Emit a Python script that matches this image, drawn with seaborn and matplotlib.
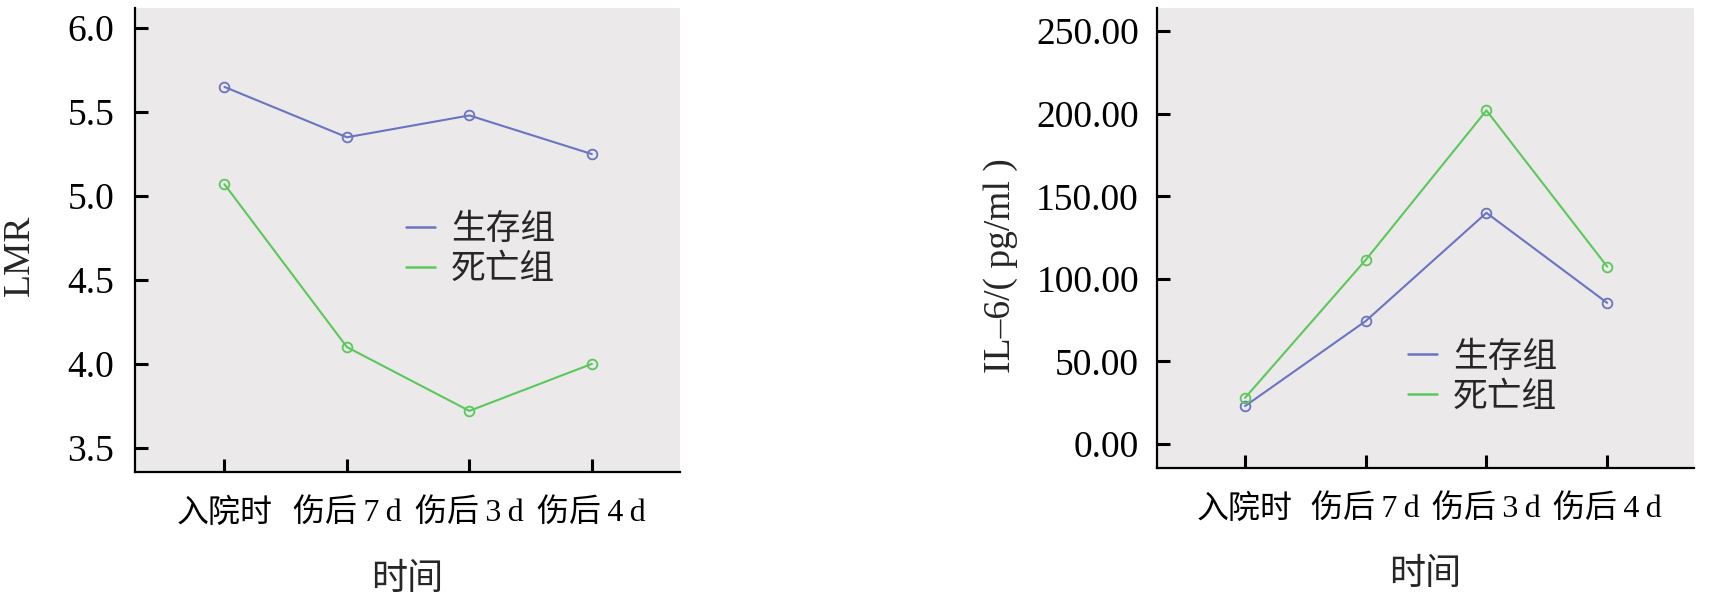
import numpy as np
import pandas as pd
import matplotlib
matplotlib.use("Agg")
import matplotlib.pyplot as plt
import seaborn as sns
from matplotlib.ticker import FormatStrFormatter

# 数据
times = ["入院时", "伤后\u20097\u2009d", "伤后\u20093\u2009d", "伤后\u20094\u2009d"]
groups = ["生存组", "死亡组"]
lmr_alive = [5.65, 5.35, 5.48, 5.25]
lmr_dead = [5.07, 4.10, 3.72, 4.00]
il6_alive = [23.0, 74.5, 140.0, 85.5]
il6_dead = [28.0, 111.5, 202.0, 107.5]

colors = {"生存组": "#6a74c2", "死亡组": "#5cc85c"}
bg = "#ebe9ea"


def long_table(alive, dead):
    return pd.DataFrame({
        "time": times * 2,
        "value": alive + dead,
        "group": [groups[0]] * len(times) + [groups[1]] * len(times),
    })


def draw(ax, df, ylim, yticks, fmt, ylabel, ylab_xy, leg_xy, ypad):
    sns.lineplot(data=df, x="time", y="value", hue="group", palette=colors,
                 sort=False, marker="o", markersize=7, linewidth=1.5,
                 errorbar=None, ax=ax)
    for ln in ax.lines:
        ln.set_markerfacecolor("none")
        ln.set_markeredgecolor(ln.get_color())
        ln.set_markeredgewidth(1.3)
    ax.set_facecolor(bg)
    ax.set_xlim(-0.73, 3.72)
    ax.set_ylim(*ylim)
    ax.set_yticks(yticks)
    ax.yaxis.set_major_formatter(FormatStrFormatter(fmt))
    ax.tick_params(axis="both", direction="in", length=9.5, width=2.2,
                   colors="black", bottom=True, left=True)
    ax.tick_params(axis="x", pad=19, labelsize=23)
    ax.tick_params(axis="y", pad=ypad, labelsize=27)
    for s in ["top", "right"]:
        ax.spines[s].set_visible(False)
    for s in ["left", "bottom"]:
        ax.spines[s].set_linewidth(1.6)
        ax.spines[s].set_color("black")
    ax.set_xlabel("时间", fontsize=26)
    ax.set_ylabel(ylabel, fontsize=27)
    ax.xaxis.set_label_coords(0.5, -0.198)
    ax.xaxis.label.set_verticalalignment("top")
    ax.yaxis.set_label_coords(*ylab_xy)
    handles, labels = ax.get_legend_handles_labels()
    leg = ax.legend(handles, labels, loc="upper left", bbox_to_anchor=leg_xy,
                    frameon=False, fontsize=25, borderpad=0, borderaxespad=0,
                    handlelength=0.85, handletextpad=0.45, labelspacing=0.2)
    for h in leg.get_lines():
        h.set_marker("")
        h.set_linewidth(1.8)


sns.set_theme(style="white")
plt.rcParams["font.family"] = ["Liberation Serif", "Noto Sans CJK SC", "DejaVu Sans"]
plt.rcParams["axes.unicode_minus"] = False

fig = plt.figure(figsize=(17.12, 5.94), dpi=100)
ax1 = fig.add_axes([0.0789, 0.2054, 0.3183, 0.7811])
ax2 = fig.add_axes([0.6758, 0.2121, 0.3137, 0.7744])

draw(ax1, long_table(lmr_alive, lmr_dead), (3.356, 6.12),
     [3.5, 4.0, 4.5, 5.0, 5.5, 6.0], "%.1f", "LMR",
     (-0.18, 0.468), (0.497, 0.555), 15)
draw(ax2, long_table(il6_alive, il6_dead), (-14.5, 264),
     [0, 50, 100, 150, 200, 250], "%.2f", "IL–6/( pg/ml )",
     (-0.258, 0.439), (0.467, 0.275), 13)

fig.savefig("out.png", dpi=100, facecolor="white")
